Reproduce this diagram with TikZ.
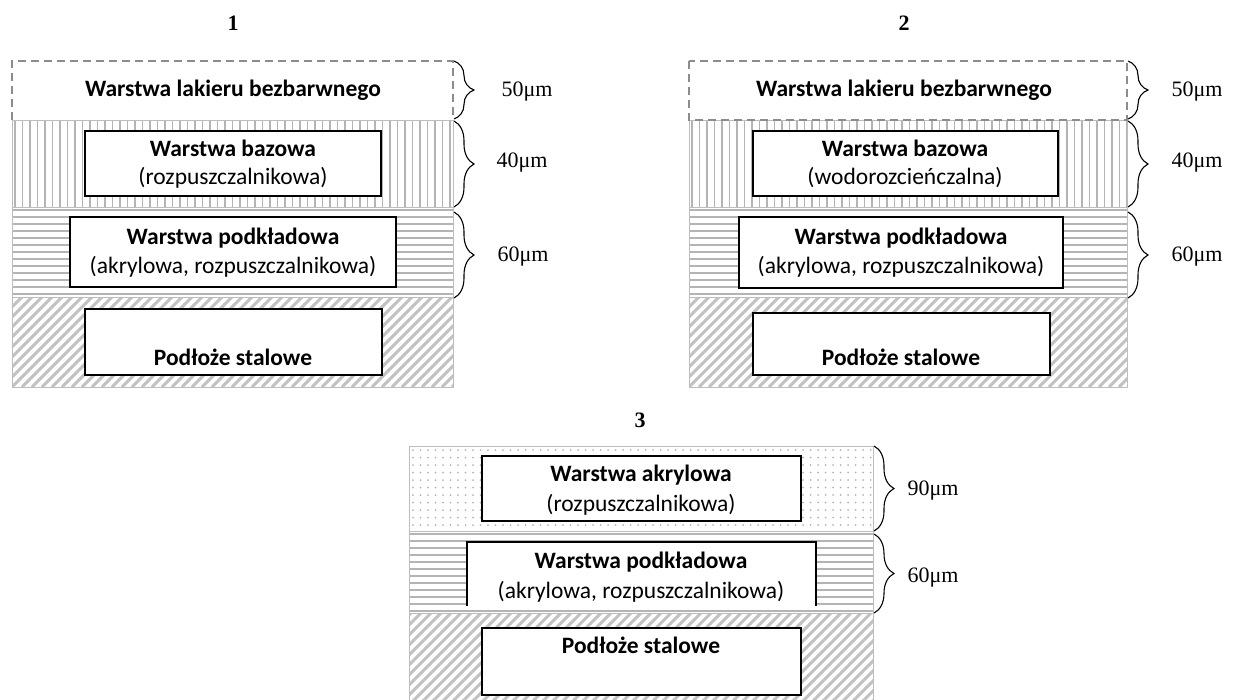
\documentclass[tikz,border=0pt]{standalone}
\usepackage{fontspec}
\setmainfont{Liberation Serif}
\newfontfamily\calib{Carlito}
\usetikzlibrary{decorations.pathreplacing}
\definecolor{pat}{HTML}{B4B4B4}
\definecolor{brd}{HTML}{BDBDBD}
\definecolor{dsh}{HTML}{8C8C8C}
\definecolor{hat}{HTML}{C2C2C2}
\tikzset{
  inbox/.style={draw=black, line width=1.6pt, fill=white, inner sep=0pt},
  lbl/.style={font=\calib\fontsize{23.5}{27}\selectfont, align=center, inner sep=0pt, anchor=base},
  blbl/.style={lbl, font=\calib\bfseries\fontsize{23.5}{27}\selectfont},
  brc/.style={decorate, decoration={brace, amplitude=20pt}, line width=1.1pt},
  um/.style={font=\fontsize{22}{26}\selectfont, inner sep=0pt},
  ttl/.style={font=\bfseries\fontsize{22}{26}\selectfont, inner sep=0pt},
  dashbox/.style={draw=dsh, line width=1.5pt, dash pattern=on 8pt off 5pt},
  border/.style={draw=brd, line width=1pt},
}
\newcommand\vlayer[4]{%
  \begin{scope}
    \clip (#1,#2) rectangle (#3,#4);
    \foreach \i in {0,...,70}{\draw[pat, line width=1.4pt] ({#1+3+\i*7.5},#2) -- ({#1+3+\i*7.5},#4);}
  \end{scope}
  \draw[border] (#1,#2) rectangle (#3,#4);}
\newcommand\hlayer[4]{%
  \begin{scope}
    \clip (#1,#2) rectangle (#3,#4);
    \foreach \i in {0,...,16}{\draw[pat, line width=1.4pt] (#1,{#2+3+\i*7}) -- (#3,{#2+3+\i*7});}
  \end{scope}
  \draw[border] (#1,#2) rectangle (#3,#4);}
\newcommand\hatchlayer[4]{%
  \begin{scope}
    \clip (#1,#2) rectangle (#3,#4);
    \foreach \i in {-12,...,50}{\draw[hat, line width=3pt] ({#1+\i*10},#4) -- ++(100,-100);}
  \end{scope}
  \draw[border] (#1,#2) rectangle (#3,#4);}
\newcommand\dlayer[4]{%
  \begin{scope}
    \clip (#1,#2) rectangle (#3,#4);
    \foreach \i in {0,...,62}{\foreach \j in {0,...,12}{\fill[pat] ({#1+4+\i*7.5},{#2+4+\j*7.5}) circle [radius=1pt];}}
  \end{scope}
  \draw[border] (#1,#2) rectangle (#3,#4);}
\begin{document}
\begin{tikzpicture}[x=1pt,y=-1pt]
\useasboundingbox (0,0) rectangle (1233,699);
% ---------- Diagram 1 ----------
\node[ttl] (t1) at (233,23) {1};
\draw[dashbox] (12,120) -- (12,61) -- (453,61) -- (453,120);
\vlayer{12}{120}{453}{207}
\hlayer{12}{207}{453}{297}
\hatchlayer{12}{297}{453}{387}
\node[blbl] (a1) at (233,96) {Warstwa lakieru bezbarwnego};
\draw[inbox] (85,131) rectangle (381,196);
\node[blbl] (b1) at (233,156) {Warstwa bazowa};
\node[lbl] (b1s) at (233,184) {(rozpuszczalnikowa)};
\draw[inbox] (70,217) rectangle (396,287);
\node[blbl] (c1) at (233,244) {Warstwa podkładowa};
\node[lbl] (c1s) at (233,273) {(akrylowa, rozpuszczalnikowa)};
\draw[inbox] (85,309) rectangle (382,375);
\node[blbl] (d1) at (233,365) {Podłoże stalowe};
\draw[brc] (454,61) -- (454,119);
\draw[brc] (454,121) -- (454,207);
\draw[brc] (454,212) -- (454,298);
\node[um] (u11) at (527,92) {50μm};
\node[um] (u12) at (522,163) {40μm};
\node[um] (u13) at (523,257) {60μm};
% ---------- Diagram 2 ----------
\node[ttl] (t2) at (904,23) {2};
\vlayer{689}{120}{1127}{207}
\hlayer{689}{207}{1127}{297}
\hatchlayer{689}{297}{1127}{387}
\draw[dashbox] (689,61) rectangle (1127,120);
\node[blbl] (a2) at (904,96) {Warstwa lakieru bezbarwnego};
\draw[inbox] (753,131) rectangle (1058,196);
\node[blbl] (b2) at (905,156) {Warstwa bazowa};
\node[lbl] (b2s) at (905,184) {(wodorozcieńczalna)};
\draw[inbox] (739,217) rectangle (1063,288);
\node[blbl] (c2) at (901,244) {Warstwa podkładowa};
\node[lbl] (c2s) at (901,273) {(akrylowa, rozpuszczalnikowa)};
\draw[inbox] (753,313) rectangle (1050,375);
\node[blbl] (d2) at (901,365) {Podłoże stalowe};
\draw[brc] (1128,61) -- (1128,119);
\draw[brc] (1128,121) -- (1128,207);
\draw[brc] (1128,212) -- (1128,298);
\node[um] (u21) at (1197,92) {50μm};
\node[um] (u22) at (1197,163) {40μm};
\node[um] (u23) at (1197,257) {60μm};
% ---------- Diagram 3 ----------
\node[ttl] (t3) at (640,420) {3};
\dlayer{409}{446}{873}{531}
\hlayer{409}{531}{873}{613}
\hatchlayer{409}{613}{873}{705}
\draw[inbox] (482,456) rectangle (801,521);
\node[blbl] (b3) at (641,481) {Warstwa akrylowa};
\node[lbl] (b3s) at (641,511) {(rozpuszczalnikowa)};
\fill[white] (467,542) rectangle (816,606);
\draw[black, line width=1.6pt] (467,606) -- (467,542) -- (816,542) -- (816,606);
\node[blbl] (c3) at (641,568) {Warstwa podkładowa};
\node[lbl] (c3s) at (641,598) {(akrylowa, rozpuszczalnikowa)};
\draw[inbox] (482,628) rectangle (801,695);
\node[blbl] (d3) at (641,653) {Podłoże stalowe};
\draw[brc] (874,446) -- (874,531);
\draw[brc] (874,534) -- (874,613);
\node[um] (u31) at (933,491) {90μm};
\node[um] (u32) at (933,578) {60μm};
\end{tikzpicture}
\end{document}
